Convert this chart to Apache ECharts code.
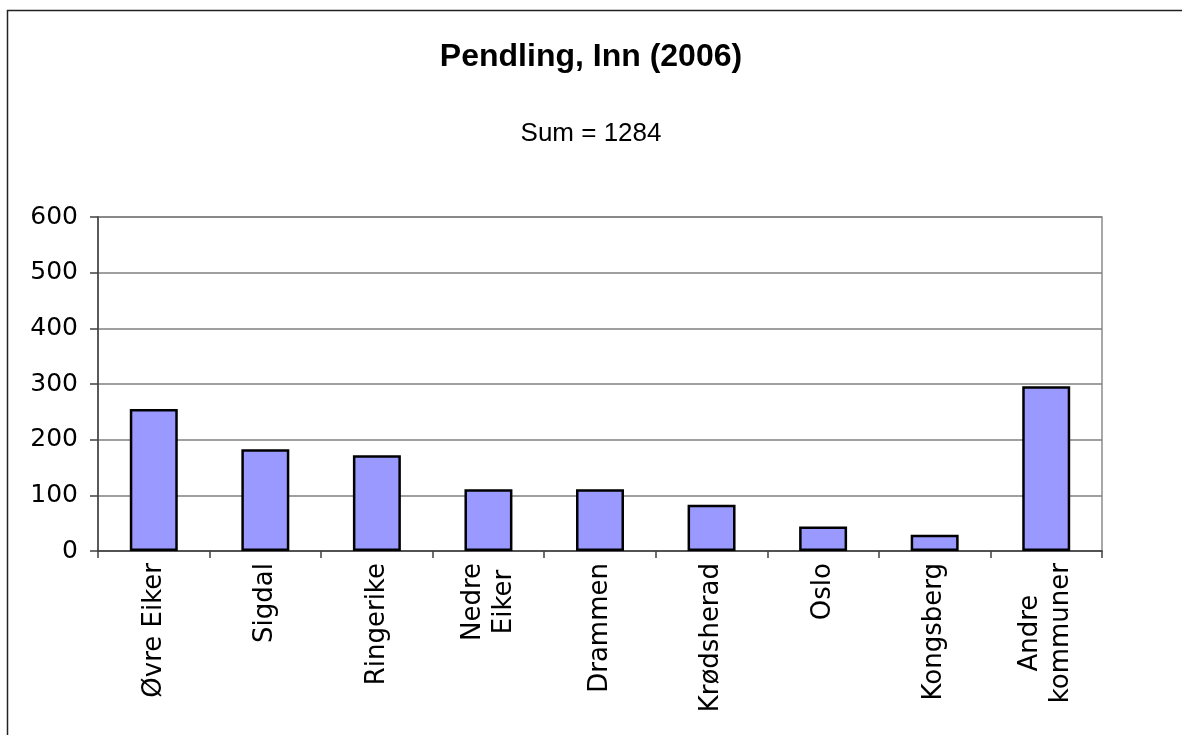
<!DOCTYPE html>
<html>
<head>
    <meta charset="utf-8">
    <title>Pendling, Inn (2006)</title>
    <script src="https://cdn.jsdelivr.net/npm/echarts@6/dist/echarts.min.js"></script>
    <style>
        html, body { margin: 0; padding: 0; background: #fff; }
    </style>
</head>
<body>
    <div id="main" style="width: 1182px;height:735px;"></div>
    <script type="text/javascript">
        // data
        var kommuner = ['Øvre Eiker', 'Sigdal', 'Ringerike', 'Nedre\nEiker', 'Drammen',
                        'Krødsherad', 'Oslo', 'Kongsberg', 'Andre\nkommuner'];
        var pendlere = [255, 183, 172, 111, 111, 83, 44, 29, 296];
        var yTicks = [0, 100, 200, 300, 400, 500, 600];

        var axisFont = 'DejaVu Sans, Verdana, sans-serif';
        var titleFont = 'Liberation Sans, Arial, sans-serif';

        var myChart = echarts.init(document.getElementById('main'));
        myChart.setOption({
            animation: false,
            title: [{
                text: 'Pendling, Inn (2006)',
                left: 'center',
                top: 41,
                padding: [0, 0, 0, 20],
                textStyle: { fontFamily: titleFont, fontSize: 32, fontWeight: 'bold', color: '#000' }
            }, {
                text: 'Sum = 1284',
                left: 'center',
                top: 121,
                padding: [0, 0, 0, 22],
                textStyle: { fontFamily: titleFont, fontSize: 26, fontWeight: 'normal', color: '#000' }
            }],
            graphic: [{
                type: 'rect',
                shape: { x: 7.5, y: 10.5, width: 1300, height: 900 },
                style: { fill: 'none', stroke: '#222', lineWidth: 1.5 },
                silent: true
            }],
            grid: {
                left: 98, right: 80, top: 217, bottom: 184,
                show: true,
                borderColor: '#8c8c8c',
                borderWidth: 1.5
            },
            xAxis: {
                type: 'category',
                data: kommuner,
                axisLine: { lineStyle: { color: '#404040', width: 1.5 } },
                axisTick: { show: true, length: 7, interval: 0, lineStyle: { color: '#404040', width: 1.5 } },
                axisLabel: {
                    interval: 0,
                    rotate: 90,
                    margin: 12,
                    color: '#000',
                    fontFamily: axisFont,
                    fontSize: 26,
                    lineHeight: 31,
                    formatter: function (v) {
                        return v.split('\n').map(function (s) { return '{c|' + s + '}'; }).join('\n');
                    },
                    rich: {
                        c: { align: 'center', fontFamily: axisFont, fontSize: 26, color: '#000', lineHeight: 31 }
                    }
                }
            },
            yAxis: {
                type: 'value',
                min: yTicks[0],
                max: yTicks[yTicks.length - 1],
                interval: 100,
                axisLine: { show: true, lineStyle: { color: '#404040', width: 1.5 } },
                axisTick: { show: true, length: 8, lineStyle: { color: '#404040', width: 1.5 } },
                axisLabel: { margin: 20, color: '#000', fontFamily: axisFont, fontSize: 25 },
                splitLine: { show: true, lineStyle: { color: '#7f7f7f', width: 1.5 } }
            },
            series: [{
                type: 'bar',
                data: pendlere,
                barWidth: '43%',
                itemStyle: { color: '#9999ff', borderColor: '#000', borderWidth: 2.5 }
            }]
        });
    </script>
</body>
</html>
